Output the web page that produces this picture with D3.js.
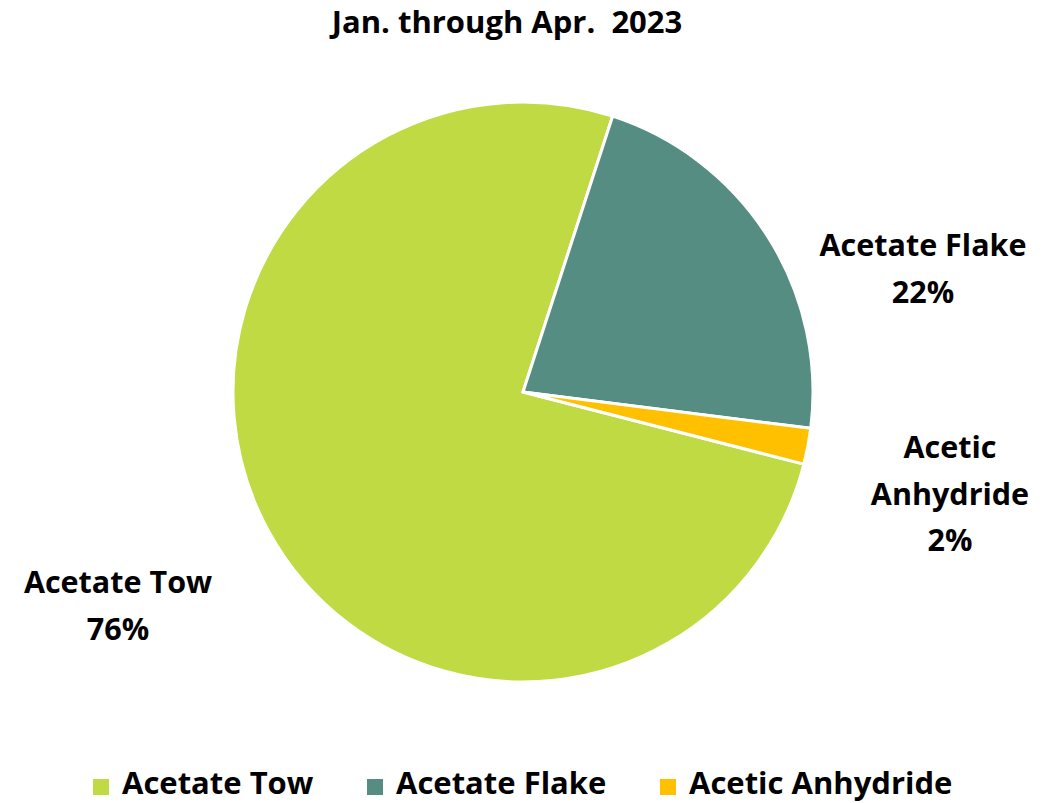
<!DOCTYPE html>
<html>
<head>
<meta charset="utf-8">
<script src="https://cdn.jsdelivr.net/npm/d3@7"></script>
<style>
  body { margin: 0; background: #fff; }
  text { font-family: "Open Sans", Lato, sans-serif; font-weight: bold; fill: #000; white-space: pre; }
</style>
</head>
<body>
<div id="chart"></div>
<script>
// chart data
var categories = ["Acetate Tow", "Acetate Flake", "Acetic Anhydride"];
var values = [76, 22, 2];
var colors = ["#C0DA43", "#558D82", "#FFC000"];
var title = "Jan. through Apr.  2023";

var width = 1048,
    height = 803;

var cx = 523, cy = 392, radius = 290;

var svg = d3.select("#chart")
            .append("svg")
            .attr("width", width)
            .attr("height", height);

svg.append("text")
   .attr("x", 507)
   .attr("y", 33)
   .attr("text-anchor", "middle")
   .attr("xml:space", "preserve")
   .style("font-size", "31px")
   .text(title);

var data = categories.map(function(c, i) { return {name: c, value: values[i], color: colors[i]}; });

// excel starts the first slice at ~104 deg clockwise from 12 o'clock
var start = 104.4 * Math.PI / 180;
var pie = d3.pie()
            .sort(null)
            .value(function(d) { return d.value; })
            .startAngle(start)
            .endAngle(start + 2 * Math.PI);

var arc = d3.arc().innerRadius(0).outerRadius(radius);

var g = svg.append("g").attr("transform", "translate(" + cx + "," + cy + ")");

g.selectAll("path")
 .data(pie(data))
 .enter()
 .append("path")
 .attr("d", arc)
 .style("fill", function(d) { return d.data.color; })
 .style("stroke", "#fff")
 .style("stroke-width", 3)
 .style("stroke-linejoin", "round");

// data labels (best-fit spots, like excel)
var labelSpots = [
  {x: 118, y: 583, lines: ["Acetate Tow"]},
  {x: 923, y: 246, lines: ["Acetate Flake"]},
  {x: 950, y: 448, lines: ["Acetic", "Anhydride"]}
];

labelSpots.forEach(function(s, i) {
  var lines = s.lines.concat([values[i] + "%"]);
  var t = svg.append("text")
             .attr("text-anchor", "middle")
             .style("font-size", "30.5px");
  lines.forEach(function(l, j) {
    t.append("tspan")
     .attr("x", s.x)
     .attr("y", s.y + 10 + j * 46.5)
     .text(l);
  });
});

// legend
var legendX = [93, 367, 660];
var legend = svg.selectAll(".leg")
                .data(data)
                .enter()
                .append("g")
                .attr("transform", function(d, i) { return "translate(" + legendX[i] + ",779)"; });

legend.append("rect")
      .attr("width", 16)
      .attr("height", 16)
      .style("fill", function(d) { return d.color; });

legend.append("text")
      .attr("x", 29)
      .attr("y", 15)
      .style("font-size", "31px")
      .text(function(d) { return d.name; });
</script>
</body>
</html>
